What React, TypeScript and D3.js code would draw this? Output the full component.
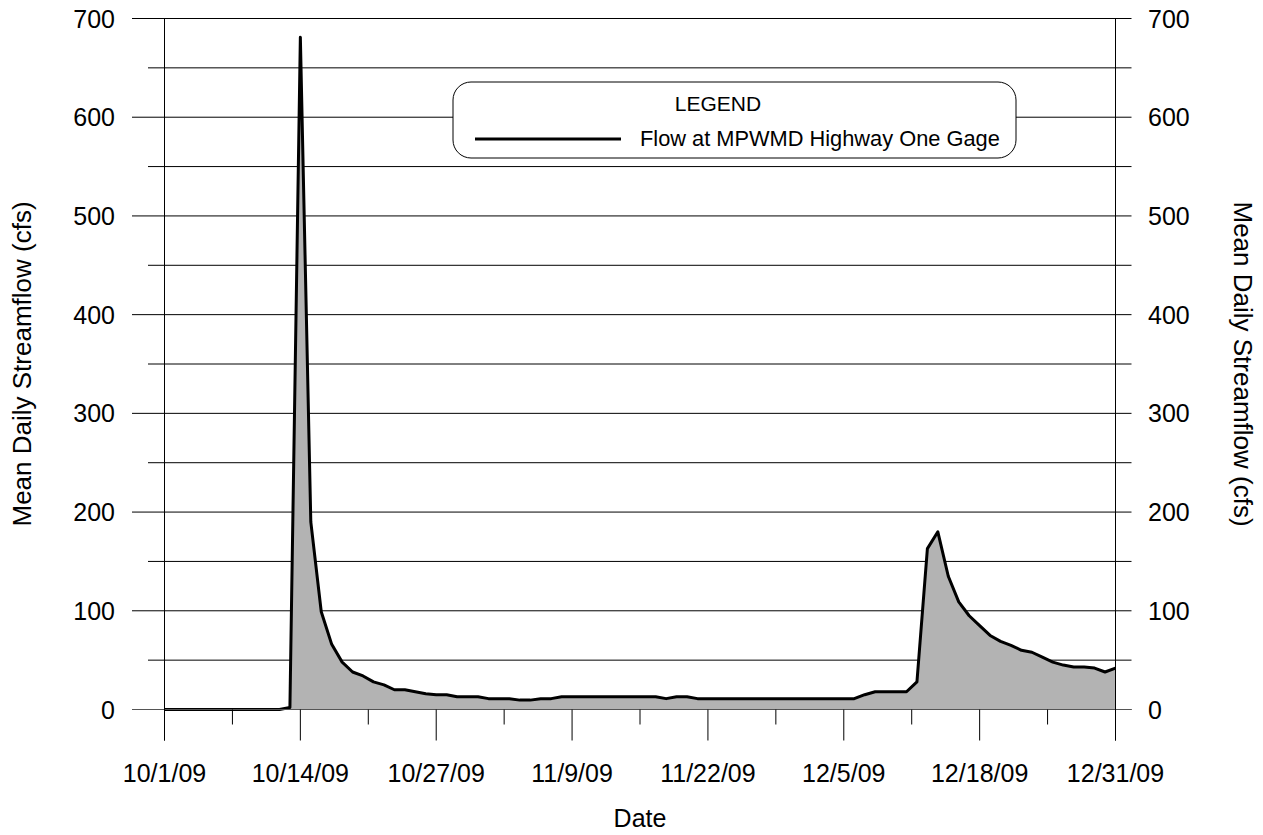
import React from "react";
import * as d3 from "d3";

// Mean daily streamflow (cfs), 10/1/09 .. 12/31/09, one value per day
const flowValues: number[] = [
  0, 0, 0, 0, 0, 0, 0, 0, 0, 0, 0, 0, 2,
  681, 190, 99, 66, 48, 38, 34, 28, 25, 20, 20, 18, 16, 15, 15,
  13, 13, 13, 11, 11, 11, 9.5, 9.5, 11, 11,
  13, 13, 13, 13, 13, 13, 13, 13, 13, 13, 11, 13, 13, 11,
  11, 11, 11, 11, 11, 11, 11, 11, 11, 11, 11, 11, 11, 11, 11,
  15, 18, 18, 18, 18, 28, 163, 180, 135, 109, 95, 85, 75, 69, 65, 60, 58, 53,
  48, 45, 43, 43, 42, 38, 42,
];

const dateLabels: string[] = [
  "10/1/09", "10/14/09", "10/27/09", "11/9/09", "11/22/09", "12/5/09", "12/18/09", "12/31/09",
];
const tickStepDays = 13;

const yMajorTicks: number[] = [0, 100, 200, 300, 400, 500, 600, 700];
const yMinorTicks: number[] = [50, 150, 250, 350, 450, 550, 650];

const yAxisTitle = "Mean Daily Streamflow (cfs)";
const xAxisTitle = "Date";
const legendTitle = "LEGEND";
const seriesName = "Flow at MPWMD Highway One Gage";

export default function App() {
  const W = 1263;
  const H = 835;
  const left = 164.5;
  const right = 1115.5;
  const top = 18.5;
  const bottom = 709.5;
  const font = "Arial, 'Liberation Sans', sans-serif";
  const fs = 25;

  const x = d3.scaleLinear().domain([0, flowValues.length - 1]).range([left, right]);
  const y = d3.scaleLinear().domain([0, 700]).range([bottom, top]);

  const area = d3
    .area<number>()
    .x((_, i) => x(i))
    .y0(y(0))
    .y1((d) => y(d));
  const line = d3
    .line<number>()
    .x((_, i) => x(i))
    .y((d) => y(d));

  const majorX = dateLabels.map((_, i) => i * tickStepDays);
  const minorX = dateLabels.slice(1).map((_, i) => i * tickStepDays + tickStepDays / 2);

  return (
    <svg
      width={W}
      height={H}
      style={{ position: "absolute", left: 0, top: 0, background: "#fff" }}
      fontFamily={font}
    >
      {/* gridlines with outward ticks */}
      {yMinorTicks.map((t) => (
        <line key={"mn" + t} x1={148} x2={right + 16} y1={y(t)} y2={y(t)} stroke="#000" strokeWidth={1} />
      ))}
      {yMajorTicks.map((t) => (
        <line key={"mj" + t} x1={132} x2={right + 16} y1={y(t)} y2={y(t)} stroke="#000" strokeWidth={1} />
      ))}

      {/* area + line */}
      <path d={area(flowValues) || ""} fill="#b3b3b3" stroke="none" />
      <path d={line(flowValues) || ""} fill="none" stroke="#000" strokeWidth={3} strokeLinejoin="round" />

      {/* zero line on top */}
      <line x1={132} x2={right + 16} y1={y(0)} y2={y(0)} stroke="#555" strokeWidth={1} />

      {/* vertical axes */}
      <line x1={left} x2={left} y1={top} y2={bottom + 31} stroke="#000" strokeWidth={1} />
      <line x1={right} x2={right} y1={top} y2={bottom + 31} stroke="#000" strokeWidth={1} />

      {/* x ticks */}
      {majorX.map((d) => (
        <line key={"xt" + d} x1={x(d)} x2={x(d)} y1={bottom} y2={bottom + 31} stroke="#000" strokeWidth={1} />
      ))}
      {minorX.map((d) => (
        <line key={"xm" + d} x1={x(d)} x2={x(d)} y1={bottom} y2={bottom + 15} stroke="#000" strokeWidth={1} />
      ))}

      {/* x labels */}
      {dateLabels.map((lab, i) => (
        <text key={lab} x={x(majorX[i])} y={782} textAnchor="middle" fontSize={fs} fill="#000">
          {lab}
        </text>
      ))}
      <text x={(left + right) / 2} y={827} textAnchor="middle" fontSize={fs} fill="#000">
        {xAxisTitle}
      </text>

      {/* y labels */}
      {yMajorTicks.map((t) => (
        <text key={"yl" + t} x={115} y={y(t)} dy="0.36em" textAnchor="end" fontSize={fs} fill="#000">
          {t}
        </text>
      ))}
      {yMajorTicks.map((t) => (
        <text key={"yr" + t} x={1148} y={y(t)} dy="0.36em" textAnchor="start" fontSize={fs} fill="#000">
          {t}
        </text>
      ))}
      <text
        transform={`translate(31, ${(top + bottom) / 2}) rotate(-90)`}
        textAnchor="middle"
        fontSize={26}
        fill="#000"
      >
        {yAxisTitle}
      </text>
      <text
        transform={`translate(1234, ${(top + bottom) / 2}) rotate(90)`}
        textAnchor="middle"
        fontSize={26}
        fill="#000"
      >
        {yAxisTitle}
      </text>

      {/* legend */}
      <rect x={453} y={82} width={563} height={76} rx={18} ry={18} fill="#fff" stroke="#000" strokeWidth={1} />
      <text x={718} y={111} textAnchor="middle" fontSize={21} fill="#000">
        {legendTitle}
      </text>
      <line x1={475} x2={621} y1={139} y2={139} stroke="#000" strokeWidth={3} />
      <text x={640} y={146} textAnchor="start" fontSize={21.8} fill="#000">
        {seriesName}
      </text>
    </svg>
  );
}
